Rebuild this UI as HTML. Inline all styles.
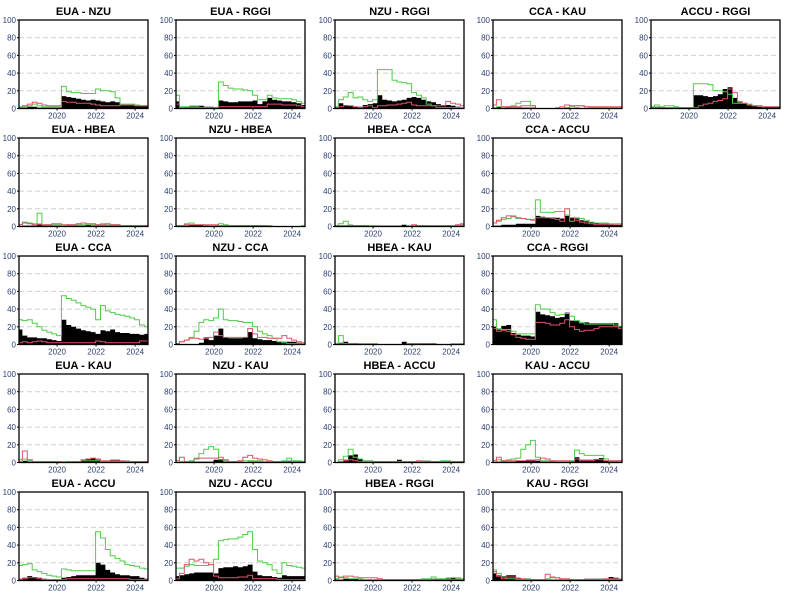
<!DOCTYPE html>
<html><head><meta charset="utf-8"><style>
body{margin:0;background:#fff;width:800px;height:600px;overflow:hidden}
svg{display:block}
text{font-family:"Liberation Sans",sans-serif}
</style></head><body>
<svg id="chart" width="800" height="600" viewBox="0 0 800 600"></svg>
<script>
const times = [2018.1,2018.35,2018.6,2018.85,2019.1,2019.35,2019.6,2019.85,2020.1,2020.35,2020.6,2020.85,2021.1,2021.35,2021.6,2021.85,2022.1,2022.35,2022.6,2022.85,2023.1,2023.35,2023.6,2023.85,2024.1,2024.35,2024.6];
const yTicks = [0,20,40,60,80,100];
const xTicks = [2020,2022,2024];
const panelTitles = ["EUA - NZU","EUA - RGGI","NZU - RGGI","CCA - KAU","ACCU - RGGI","EUA - HBEA","NZU - HBEA","HBEA - CCA","CCA - ACCU","EUA - CCA","NZU - CCA","HBEA - KAU","CCA - RGGI","EUA - KAU","NZU - KAU","HBEA - ACCU","KAU - ACCU","EUA - ACCU","NZU - ACCU","HBEA - RGGI","KAU - RGGI"];
const greenSeries = [
[2,2,3,5,3,2,2,2,2,25,19,18,18,17,17,17,22,20,20,19,12,5,5,5,4,3,3],
[15,2,2,2,2,1,1,1,1,30,26,23,22,22,21,20,15,10,10,15,12,11,11,11,10,8,6],
[2,10,13,18,12,13,10,8,10,44,44,44,32,30,29,28,18,15,12,5,3,1,1,1,1,1,1],
[0,2,1,2,3,6,8,8,3,0,0,0,0,0,0,1,2,3,3,2,1,1,1,1,1,1,1],
[2,4,2,3,3,2,1,1,1,28,28,28,27,20,20,19,16,6,6,6,5,3,3,2,2,2,2],
[2,5,4,3,15,2,2,2,2,1,2,2,2,2,2,2,2,3,2,2,2,1,1,1,1,1,1],
[1,1,3,4,2,2,1,1,1,3,2,1,1,1,1,1,1,1,1,1,0,0,0,0,0,0,1],
[1,3,6,1,1,1,1,1,0,0,0,0,0,0,0,1,1,1,1,0,0,0,0,0,0,1,1],
[4,6,8,9,12,9,9,8,8,30,16,16,16,17,17,13,6,10,9,7,5,4,4,4,3,3,3],
[28,27,28,24,20,16,14,12,10,55,52,50,47,44,42,40,28,44,38,36,34,33,32,30,28,22,20],
[1,3,5,8,15,25,28,27,30,40,28,27,27,26,25,25,20,15,12,10,7,3,2,1,1,1,1],
[1,10,1,1,1,1,1,1,1,0,0,0,0,0,0,1,1,1,1,1,1,0,0,0,0,0,1],
[28,18,17,17,15,12,12,12,12,45,40,40,36,33,34,35,32,27,25,23,23,23,23,23,23,22,20],
[1,4,2,1,1,1,1,1,1,1,1,1,1,2,2,2,2,1,1,1,1,1,1,1,1,1,1],
[0,1,1,2,5,10,15,18,15,3,2,1,1,1,2,2,2,2,1,1,1,1,2,5,2,2,1],
[0,3,7,15,6,4,2,2,1,1,1,1,1,1,1,1,1,1,1,1,1,1,2,2,1,1,1],
[2,3,2,3,4,5,15,20,25,6,2,2,2,1,1,1,2,14,10,8,8,8,8,4,2,2,2],
[17,18,19,12,10,8,6,5,4,13,12,11,11,11,11,11,55,48,35,28,25,22,18,17,16,14,13],
[14,14,16,18,17,17,17,18,24,45,46,47,47,49,52,55,35,22,20,18,12,8,20,17,16,15,14],
[2,4,3,2,2,2,1,1,1,1,1,1,1,1,1,1,1,1,2,2,4,2,2,2,3,3,2],
[12,8,4,2,2,1,1,2,1,1,1,2,3,3,1,1,1,1,1,1,1,1,1,1,1,1,1]];
const redSeries = [
[1,3,5,7,6,4,3,3,3,8,7,7,6,6,6,5,4,3,3,3,3,4,4,4,3,3,3],
[5,1,1,1,1,1,1,1,1,2,2,2,2,2,2,2,2,2,2,5,5,5,4,4,4,3,2],
[1,2,3,3,2,1,2,3,1,3,3,4,4,5,6,7,4,3,3,3,3,3,3,8,6,5,3],
[4,10,2,2,2,2,3,3,3,0,0,0,0,0,2,4,3,3,3,2,2,2,2,2,2,2,2],
[1,1,1,1,1,1,1,1,1,1,3,5,6,8,9,11,22,18,8,6,4,3,3,2,2,2,2],
[2,4,3,2,2,2,2,3,3,2,2,2,3,4,3,3,2,2,3,2,2,1,1,1,1,1,1],
[1,1,2,2,2,2,2,2,2,1,1,1,1,1,1,1,1,1,1,0,0,0,0,0,0,0,0],
[1,1,1,1,1,1,1,0,0,0,0,0,0,0,0,0,2,1,1,1,1,1,1,1,1,2,3],
[4,7,10,12,11,10,9,8,7,10,10,10,10,8,6,20,10,7,5,4,3,2,2,2,2,2,2],
[2,3,2,3,4,3,2,2,2,2,2,2,2,2,2,2,4,3,2,2,2,2,2,2,2,4,4],
[1,3,5,7,7,6,7,8,14,10,8,8,8,8,8,18,12,8,8,7,7,7,10,7,5,3,2],
[0,1,1,1,1,0,0,0,0,0,0,0,0,0,0,1,1,1,1,1,1,0,0,0,0,0,0],
[18,15,16,15,11,8,7,6,6,25,25,24,22,22,24,28,20,17,15,16,16,18,20,20,20,20,18],
[3,13,3,1,1,1,1,1,1,0,1,1,1,3,4,5,4,2,2,2,2,2,1,1,1,1,1],
[2,6,1,1,4,5,5,5,5,6,3,1,1,2,6,8,5,4,3,2,1,1,1,1,1,1,1],
[0,1,2,3,2,1,1,1,1,1,1,1,1,1,1,1,1,2,1,1,1,1,1,1,1,1,1],
[2,6,2,2,2,2,2,2,2,3,5,4,2,2,2,2,1,4,2,2,2,3,3,2,2,2,2],
[1,2,3,3,2,1,1,1,1,1,2,2,2,2,2,2,2,2,2,2,2,2,2,1,1,1,1],
[2,8,18,24,22,24,20,18,5,3,3,3,3,4,4,6,2,2,2,2,2,1,1,1,1,1,1],
[5,3,5,5,4,3,3,3,3,2,1,1,1,1,1,1,1,1,1,1,1,1,1,1,1,1,1],
[10,5,2,4,4,2,2,1,1,1,1,7,4,3,2,2,1,1,1,1,1,1,1,2,2,2,1]];
const blackSeries = [
[1,1,2,2,1,1,1,1,1,14,13,12,11,10,9,10,9,8,7,8,7,5,4,4,3,3,3],
[8,1,2,3,3,3,2,2,1,9,8,7,7,8,8,8,9,5,8,12,10,9,8,8,7,6,4],
[2,6,4,3,2,2,4,5,6,15,10,9,8,9,10,12,13,12,10,8,7,5,4,4,3,2,1],
[1,2,1,1,1,1,1,1,1,0,0,0,0,1,0,0,0,1,0,0,0,0,0,0,0,0,0],
[2,2,2,1,1,1,1,1,1,15,15,14,13,14,16,22,24,12,7,6,5,3,2,2,2,2,2],
[0,1,1,1,3,1,1,1,1,0,1,1,1,1,2,1,1,1,1,1,1,1,1,0,0,0,0],
[0,0,1,2,2,2,2,1,1,1,1,1,1,1,0,0,0,0,0,0,0,0,0,0,0,0,0],
[0,1,1,2,1,0,0,0,1,1,1,1,1,1,2,1,1,1,1,1,1,1,1,1,1,2,2],
[1,1,2,2,2,3,3,3,3,12,11,10,9,10,9,12,10,9,7,6,5,4,3,3,3,2,2],
[17,10,8,8,7,7,6,5,4,28,22,20,18,16,15,14,12,16,15,17,14,13,13,12,12,11,12],
[0,0,0,0,0,2,8,5,10,18,8,7,7,7,8,14,7,6,5,5,4,3,3,3,3,2,1],
[0,2,3,1,1,1,0,0,0,0,0,0,0,0,3,1,1,0,0,0,0,0,0,0,1,1,0],
[20,17,21,22,13,11,10,10,9,37,34,33,32,30,31,36,27,27,24,25,24,24,24,24,24,24,21],
[0,2,1,1,1,1,1,0,0,1,1,1,1,3,4,5,3,2,2,3,3,2,2,1,1,1,1],
[0,0,0,0,1,1,1,1,3,4,1,0,0,0,0,1,1,1,1,1,1,1,1,2,1,1,0],
[0,1,3,8,9,4,1,1,1,1,1,1,1,3,1,1,0,1,2,2,1,1,1,1,1,1,1],
[0,1,1,1,1,2,2,3,3,2,1,1,1,1,1,1,2,6,3,3,3,4,5,2,1,1,1],
[2,3,5,4,3,2,1,1,1,3,4,5,6,6,6,6,20,18,12,9,7,6,6,5,5,3,2],
[5,6,7,8,9,9,9,9,8,14,15,15,16,15,16,18,10,6,5,5,4,3,6,5,5,5,5],
[1,1,2,2,2,1,1,1,1,1,0,1,1,1,1,1,1,0,0,1,2,2,2,3,3,2,1],
[8,6,5,6,6,3,2,1,1,1,0,1,1,1,1,1,1,1,1,2,2,2,2,2,4,3,2]];

const NS='http://www.w3.org/2000/svg';
const svg=document.getElementById('chart');
const colLeft=[19,176,335,493,651], W=129, H=88.5, rowTop0=20, rowPitch=118;
const X0=2018.05, X1=2024.66;
const rowCounts=[5,4,4,4,4];
function mk(tag,attrs,parent){const e=document.createElementNS(NS,tag);for(const k in attrs)e.setAttribute(k,attrs[k]);(parent||svg).appendChild(e);return e;}
function stepPath(vals,sx,sy,closed){
  let d='';const h=0.125;
  vals.forEach((v,i)=>{const xa=sx(times[i]-h),xb=sx(times[i]+h),y=sy(v);
    d+=(i===0?(closed?'M'+xa.toFixed(1)+','+sy(0)+'L':'M'):'L')+xa.toFixed(1)+','+y.toFixed(1)+'L'+xb.toFixed(1)+','+y.toFixed(1);});
  if(closed)d+='L'+sx(times[times.length-1]+h).toFixed(1)+','+sy(0)+'Z';
  return d;}
let p=0;
rowCounts.forEach((n,r)=>{
  for(let c=0;c<n;c++,p++){
    const L=colLeft[c],T=rowTop0+r*rowPitch,B=T+H,R=L+W;
    const sx=t=>L+(Math.min(Math.max(t,X0),X1)-X0)/(X1-X0)*W;
    const sy=v=>B-v/100*H;
    const g=mk('g',{});
    
    
    const title=mk('text',{x:L+W/2,y:T-5,'text-anchor':'middle','font-size':'11','font-weight':'bold',fill:'#000'},g);
    title.textContent=panelTitles[p];
    
    
    yTicks.forEach(v=>{
      if(v>0&&v<100){const gl=mk('line',{x1:L,x2:R,y1:sy(v),y2:sy(v),stroke:'#cfcfcf','stroke-dasharray':'5,3','stroke-width':1},g);
        }
      mk('line',{x1:L-2,x2:L,y1:sy(v),y2:sy(v),stroke:'#000'},g);
      const tl=mk('text',{x:L-3,y:sy(v)+3,'text-anchor':'end','font-size':'8',fill:'#2b3f70'},g);
      tl.textContent=v;
    });
    xTicks.forEach(t=>{
      mk('line',{x1:sx(t),x2:sx(t),y1:B,y2:B+2,stroke:'#000'},g);
      const tl=mk('text',{x:sx(t),y:B+10,'text-anchor':'middle','font-size':'8',fill:'#2b3f70'},g);
      tl.textContent=t;
    });
    const area=mk('path',{d:stepPath(blackSeries[p],sx,sy,true),fill:'#000',stroke:'none'},g);
    
    const gr=mk('path',{d:stepPath(greenSeries[p],sx,sy,false),fill:'none',stroke:'#4fcb48','stroke-width':1},g);
    
    const rd=mk('path',{d:stepPath(redSeries[p],sx,sy,false),fill:'none',stroke:'#df536b','stroke-width':1},g);
    
    const box=mk('rect',{x:L,y:T,width:W,height:H,fill:'none',stroke:'#000','stroke-width':1.3},g);
    
  }
});
</script>
</body></html>
